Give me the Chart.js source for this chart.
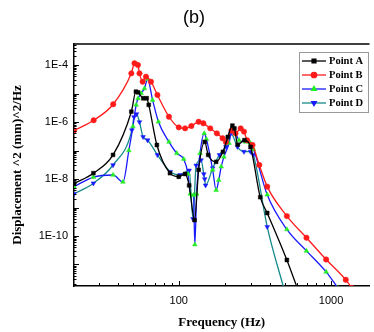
<!DOCTYPE html>
<html>
<head>
<meta charset="utf-8">
<script src="https://cdn.jsdelivr.net/npm/chart.js@4.4.1/dist/chart.umd.min.js"></script>
<style>
  html, body { margin: 0; padding: 0; background: #fff; overflow: hidden; }
</style>
</head>
<body>
<canvas id="chart" width="374" height="332"></canvas>
<script>
const seriesLabels = ['Point A', 'Point B', 'Point C', 'Point D']

// Point A
const freqA = [20.5, 27.5, 37, 48.8, 52.3, 54, 58.5, 61.5, 63.5, 71.8, 87.5, 100, 110, 117, 127, 135, 148, 156, 176, 195, 210, 225, 232, 244, 270, 296, 343, 381, 513, 600]
const valA = [7e-9, 1.6e-8, 7e-8, 2.3e-6, 1.16e-5, 1.1e-5, 6.8e-6, 6.8e-6, 4e-6, 1.56e-7, 1.6e-8, 1.2e-8, 1.5e-8, 6e-9, 3.6e-10, 2.1e-8, 2e-7, 7e-8, 4e-8, 9e-8, 3e-7, 7.5e-7, 6e-7, 1.6e-7, 2.3e-7, 1.33e-7, 2.3e-9, 6.4e-10, 1.44e-11, 1.5e-12]

// Point B
const freqB = [20.5, 27.6, 37.1, 48.8, 51.2, 53.9, 55.2, 57.9, 60.9, 65.7, 72.4, 86.2, 100, 110, 121, 135, 145, 161, 178, 194, 204, 222, 236, 255, 268, 281, 305, 338, 381, 513, 690, 929, 1250, 1370]
const valB = [5e-7, 1.15e-6, 4.2e-6, 5.1e-5, 1.15e-4, 1.0e-4, 5.1e-5, 2.6e-5, 3.9e-5, 2.6e-5, 8.9e-6, 1.53e-6, 6.5e-7, 6e-7, 7.2e-7, 1.02e-6, 9e-7, 6e-7, 4e-7, 2.7e-7, 2e-7, 5e-7, 4e-7, 6e-7, 4.6e-7, 2.3e-7, 1.56e-7, 3.1e-8, 5.4e-9, 5e-10, 8.7e-11, 1.5e-11, 2.9e-12, 1.5e-12]

// Point C
const freqC = [20.5, 27.5, 37, 43, 47, 50, 52.5, 54, 56.6, 59.5, 62.4, 67.3, 73.5, 86.2, 97, 107.7, 115, 119, 125, 127.5, 131, 138, 147, 152, 167, 176, 183, 190, 198, 214, 225, 249, 275, 296, 310, 381, 513, 690, 929, 1110]
const valC = [5.4e-9, 1.17e-8, 1.38e-8, 7.9e-9, 1e-7, 7e-7, 4e-6, 6.7e-6, 1.02e-5, 1.5e-5, 3.2e-5, 5.9e-6, 1.02e-6, 2e-7, 8e-8, 5e-8, 1.5e-8, 3e-9, 2.7e-9, 5e-11, 3e-9, 8e-8, 4e-7, 2.5e-7, 2.1e-8, 4.1e-9, 9.2e-9, 2.7e-8, 6e-8, 1.8e-7, 6.8e-7, 2.3e-7, 2e-7, 1.8e-7, 1.1e-7, 2.8e-9, 1.7e-10, 3e-11, 5.5e-12, 1.5e-12]

// Point D
const freqD = [20.5, 27.5, 37, 49.2, 50.8, 52.8, 55.2, 58.3, 62.4, 72.4, 88, 102, 117, 124, 130, 140, 146, 148, 150, 167, 185, 204, 220, 243, 268, 296, 309, 381, 489]
const valD = [3e-9, 7.1e-9, 3.1e-8, 5.2e-7, 1.5e-6, 1.9e-6, 1e-6, 3e-7, 2.3e-7, 7e-8, 1.8e-8, 1.4e-8, 2e-8, 4e-10, 3e-8, 4.6e-8, 1.5e-8, 1e-8, 6e-9, 2.4e-8, 7e-8, 1.35e-7, 4e-7, 1.35e-7, 9.1e-8, 9.1e-8, 7e-8, 2.1e-10, 1.5e-12]

const xTicks = [100, 1000]
const xTickLabels = ['100', '1000']
const yTicks = [1e-10, 1e-8, 1e-6, 1e-4]
const yTickLabels = ['1E-10', '1E-8', '1E-6', '1E-4']

const toPoints = (f, v) => f.map((x, i) => ({ x, y: v[i] }))

function series(label, f, v, line, marker, style, rotation) {
  return {
    label,
    data: toPoints(f, v),
    borderColor: line,
    backgroundColor: marker,
    pointBackgroundColor: marker,
    pointBorderColor: marker,
    pointStyle: style,
    pointRotation: rotation,
    pointRadius: 2.7,
    pointBorderWidth: 0.5,
    borderWidth: 1.3,
    cubicInterpolationMode: 'monotone',
  }
}

const serif = "'Liberation Serif', 'Times New Roman', serif"
const sans = "'Liberation Sans', Arial, sans-serif"

// frame, inner ticks, legend and panel label
const decor = {
  id: 'decor',
  afterDraw(chart) {
    const { ctx, chartArea: a, scales: { x, y } } = chart
    ctx.save()
    ctx.strokeStyle = '#000'
    ctx.lineWidth = 1.5
    ctx.beginPath()
    ctx.moveTo(a.left, a.top)
    ctx.lineTo(a.right, a.top)
    ctx.stroke()

    ctx.lineWidth = 1
    ctx.beginPath()
    for (let d = 1; d <= 3; d++) {
      for (let m = 1; m < 10; m++) {
        const v = m * Math.pow(10, d)
        if (v < x.min || v > x.max) continue
        const px = Math.round(x.getPixelForValue(v)) + 0.5
        ctx.moveTo(px, a.bottom)
        ctx.lineTo(px, a.bottom - (m === 1 ? 5 : 3))
      }
    }
    for (let d = -12; d <= -4; d++) {
      for (let m = 1; m < 10; m++) {
        const v = m * Math.pow(10, d)
        if (v < y.min || v > y.max) continue
        const py = Math.round(y.getPixelForValue(v)) + 0.5
        ctx.moveTo(a.left, py)
        ctx.lineTo(a.left + (m === 1 ? 5 : 2.5), py)
      }
    }
    ctx.stroke()

    // legend
    const lx = 299, ly = 52, lw = 69, lh = 60
    ctx.fillStyle = '#fff'
    ctx.fillRect(lx, ly, lw, lh)
    ctx.strokeStyle = '#999'
    ctx.lineWidth = 1
    ctx.strokeRect(lx + 0.5, ly + 0.5, lw, lh)
    ctx.font = 'bold 10.5px ' + serif
    ctx.textBaseline = 'middle'
    chart.data.datasets.forEach((ds, i) => {
      const cy = ly + 9 + i * 14
      ctx.strokeStyle = ds.borderColor
      ctx.lineWidth = 1.3
      ctx.beginPath()
      ctx.moveTo(lx + 3, cy)
      ctx.lineTo(lx + 27, cy)
      ctx.stroke()
      ctx.fillStyle = ds.pointBackgroundColor
      ctx.strokeStyle = ds.pointBorderColor
      Chart.helpers.drawPoint(ctx, {
        pointStyle: ds.pointStyle, radius: 2.7, rotation: ds.pointRotation, borderWidth: 0.5,
      }, lx + 15, cy)
      ctx.fillStyle = '#000'
      ctx.fillText(ds.label, lx + 30, cy + 0.5)
    })

    ctx.font = '18px ' + sans
    ctx.textAlign = 'center'
    ctx.fillText('(b)', 194, 18)
    ctx.restore()
  }
}

new Chart(document.getElementById('chart'), {
  type: 'line',
  data: {
    datasets: [
      series(seriesLabels[0], freqA, valA, '#000000', '#000000', 'rect', 0),
      series(seriesLabels[1], freqB, valB, '#ff1a1a', '#ff1a1a', 'circle', 0),
      series(seriesLabels[2], freqC, valC, '#1a1aff', '#22ee22', 'triangle', 0),
      series(seriesLabels[3], freqD, valD, '#168a8a', '#1a1aff', 'triangle', 180),
    ]
  },
  options: {
    responsive: false,
    animation: false,
    devicePixelRatio: 1,
    layout: { padding: { top: 44, right: 0, left: 0, bottom: 0 } },
    plugins: {
      legend: { display: false },
      title: { display: false },
      tooltip: { enabled: false },
    },
    scales: {
      x: {
        type: 'logarithmic',
        min: 20.5,
        max: 1790,
        afterBuildTicks: s => { s.ticks = xTicks.map(value => ({ value })) },
        afterFit: s => { s.height = 46 },
        grid: { display: false, drawTicks: false },
        border: { display: true, color: '#000', width: 1.5 },
        ticks: {
          autoSkip: false,
          maxRotation: 0,
          padding: 8,
          color: '#000',
          font: { family: sans, size: 11 },
          callback: (v, i) => xTickLabels[i],
        },
        title: {
          display: true,
          text: 'Frequency (Hz)',
          color: '#000',
          font: { family: serif, size: 13, weight: 'bold' },
          padding: { top: 0, bottom: 2 },
        },
      },
      y: {
        type: 'logarithmic',
        min: 1.76e-12,
        max: 5.46e-4,
        afterBuildTicks: s => { s.ticks = yTicks.map(value => ({ value })) },
        afterFit: s => { s.width = 74 },
        grid: { display: false, drawTicks: false },
        border: { display: true, color: '#000', width: 1.5 },
        ticks: {
          autoSkip: false,
          padding: 6,
          color: '#000',
          font: { family: sans, size: 11 },
          callback: (v, i) => yTickLabels[i],
        },
        title: {
          display: true,
          text: 'Displacement ^2 (mm)^2/Hz',
          color: '#000',
          font: { family: serif, size: 13, weight: 'bold' },
          padding: { top: 10, bottom: 0 },
        },
      },
    },
  },
  plugins: [decor],
})
</script>
</body>
</html>
